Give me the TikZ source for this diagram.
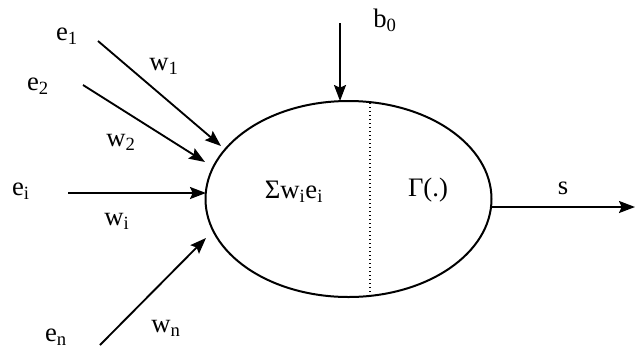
\documentclass[tikz,border=0pt]{standalone}
\usepackage{fontspec}
\setmainfont{Liberation Serif}
\usetikzlibrary{shapes.geometric, arrows.meta}
\tikzstyle{arrow} = [line width=1.4pt,-{Stealth[length=12pt,width=9pt,inset=2pt]}]
\tikzstyle{lbl} = [inner sep=0.75pt,font=\fontsize{20}{22}\selectfont]

\begin{document}
\begin{tikzpicture}[x=0.75pt,y=0.75pt,yscale=-1,xscale=1]
%set diagram area 635 x 351
\useasboundingbox (0,0) rectangle (635,351);

%Shape: Ellipse [id:neuron]
\node [draw, ellipse, line width=1.5pt, inner sep=0pt, minimum width=214.5pt, minimum height=147pt] (cell) at (348.5,199) {};
%Straight Lines [id:divider]
\coordinate (dtop) at (370,103);
\coordinate (dbot) at (370,296);
\draw [dotted, line width=1pt] (dtop) -- (dbot);

% Text Node
\node [lbl] (sum) at (294,192) {Σw\textsubscript{i}e\textsubscript{i}};
% Text Node
\node [lbl] (act) at (428,190) {Γ(.)};

% Text Node
\node [lbl] (e1) at (67,36) {e\textsubscript{1}};
% Text Node
\node [lbl] (e2) at (38,86) {e\textsubscript{2}};
% Text Node
\node [lbl] (ei) at (21,191) {e\textsubscript{i}};
% Text Node
\node [lbl] (en) at (56,337) {e\textsubscript{n}};
% Text Node
\node [lbl] (w1) at (164,66) {w\textsubscript{1}};
% Text Node
\node [lbl] (w2) at (121,142) {w\textsubscript{2}};
% Text Node
\node [lbl] (wi) at (117,221) {w\textsubscript{i}};
% Text Node
\node [lbl] (wn) at (166,328) {w\textsubscript{n}};
% Text Node
\node [lbl] (b0) at (385,20) {b\textsubscript{0}};
% Text Node
\node [lbl] (s) at (563,188) {s};

%Straight Lines [id:inputs]
\coordinate (s1) at (98,41);   \coordinate (t1) at (221,146);
\coordinate (s2) at (83,85);   \coordinate (t2) at (205,162);
\coordinate (si) at (68,193);  \coordinate (ti) at (206,193);
\coordinate (sn) at (100,345); \coordinate (tn) at (206,238);
\draw [arrow] (s1) -- (t1);
\draw [arrow] (s2) -- (t2);
\draw [arrow] (si) -- (ti);
\draw [arrow] (sn) -- (tn);

%Straight Lines [id:bias]
\coordinate (sb) at (340,23);
\coordinate (tb) at (340,101);
\draw [arrow] (sb) -- (tb);

%Straight Lines [id:output]
\coordinate (so) at (492,207);
\coordinate (to) at (635,207);
\draw [arrow] (so) -- (to);

\end{tikzpicture}
\end{document}
